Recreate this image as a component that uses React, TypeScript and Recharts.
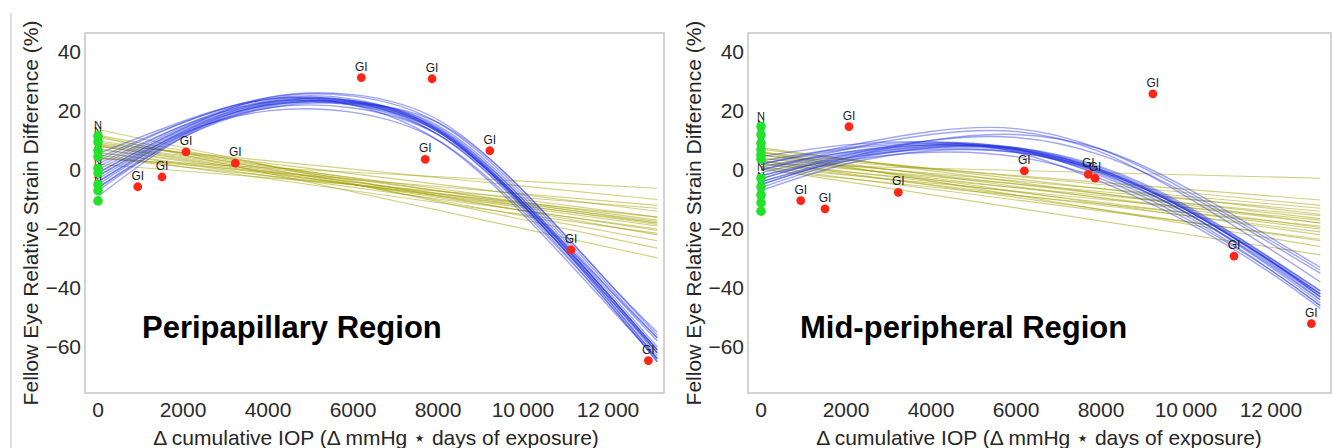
import React from "react";
import { ComposedChart, Line, Scatter, XAxis, YAxis, ReferenceArea } from "recharts";

// shared axes
const X_TICKS = [0, 2000, 4000, 6000, 8000, 10000, 12000];
const X_TICK_LABELS = ["0", "2000", "4000", "6000", "8000", "10\u2009000", "12\u2009000"];
const Y_TICKS = [-60, -40, -20, 0, 20, 40];
const Y_TICK_LABELS = ["\u221260", "\u221240", "\u221220", "0", "20", "40"];
const Y_DOMAIN: [number, number] = [-75.6, 46.4];

// x positions where the fitted curves were read
const FIT_X = [0, 2000, 4000, 6000, 8000, 10000, 12000, 13160];

// glaucoma-induced eyes (same x in both regions)
const GI_X = [935, 1506, 2070, 3230, 6196, 7700, 7860, 9220, 11130, 12950];

// ---- Peripapillary region ----
const PP_GI_Y = [-5.7, -2.4, 6.1, 2.3, 31.3, 3.6, 30.9, 6.5, -27.1, -64.6];
const PP_N_Y = [-10.5, -7, -5, -1, 0.5, 4.5, 6.5, 9.5, 11.5];
const PP_QUAD = [
  [-9, 11, 21.5, 23, 15, -9, -40, -58],
  [-7, 11.5, 22, 23, 14, -10, -41, -60],
  [-6, 12, 22.5, 23.5, 14.5, -10, -42, -61],
  [-5, 12.5, 22, 22.5, 13.5, -11, -42, -62],
  [-4, 13, 23, 23.5, 14, -11, -43, -63],
  [-3, 13, 22, 22, 13, -12, -43, -62],
  [-2, 13.5, 22.5, 22.5, 13, -11.5, -42, -61],
  [-1, 14, 23, 23, 13.5, -11, -42, -61],
  [0, 14.5, 23.5, 23.5, 13, -12, -44, -64],
  [1, 15, 24, 24, 13.5, -12, -44, -64],
  [2, 15, 23, 22, 12, -12.5, -43, -62],
  [3, 16, 24.5, 25, 16, -8, -39, -57],
  [4, 16, 24, 23, 12, -13, -45, -65],
  [5.5, 16.5, 24, 22, 10, -15, -46, -64],
  [-4, 12, 21, 21, 12, -11, -40, -57],
  [-2, 12.5, 20, 19.5, 10, -14, -45, -65],
  [-6, 11, 21, 22.5, 16, -7, -38, -55],
  [-1, 14, 24.5, 25.5, 17, -7, -38, -56],
];
// [value at x=0, value at right end]
const PP_LIN = [
  [3.8, -6.2], [8.8, -10], [9.3, -14], [8.6, -16], [9.9, -18],
  [8.3, -17], [8.1, -18.5], [7.1, -17.5], [6.9, -19], [6, -18],
  [5.9, -20], [8, -20.5], [4.1, -16], [5.1, -21.5], [11.7, -22],
  [13.7, -26.5], [11, -24], [11.4, -29.8], [1.9, -13], [4.2, -12],
];

// ---- Mid-peripheral region ----
const MP_GI_Y = [-10.4, -13.2, 14.7, -7.6, -0.3, -1.5, -2.8, 25.8, -29.2, -52.1];
const MP_N_Y = [-14, -11.2, -8.5, -5.7, -2.8, 3.6, 5, 6.8, 9, 11.9, 14.7];
const MP_QUAD = [
  [-7, 2, 6.5, 6, -0.5, -13.5, -31, -42],
  [-6, 3, 7.5, 7.5, 1, -12, -30, -41],
  [-5, 3.5, 7.5, 6.5, -0.5, -13.5, -31, -43],
  [-4, 4, 8, 7, 0, -13, -30.5, -42],
  [-3, 4.5, 8, 7, 0, -13.5, -31, -43],
  [-2, 5, 8.5, 7.5, 0.5, -12.5, -30, -41],
  [-1, 5.5, 8.5, 7, -0.5, -13.5, -31.5, -43],
  [0, 6, 9, 7.5, 0, -13, -31, -42],
  [1, 6, 8.5, 6.5, -1.5, -14.5, -32.5, -44],
  [2, 7, 9, 7, -1, -14.5, -33, -45],
  [3, 7.5, 9.5, 7, -2, -15.5, -34, -46],
  [4.5, 8.5, 9.5, 6, -4, -17.5, -35, -47],
  [-3, 5, 10, 11, 5, -8, -25, -35],
  [-5, 4, 10, 12, 7, -6, -23, -33],
  [0, 7, 12, 13, 6, -9, -27, -38],
  [2, 8, 13, 14, 7, -7, -24, -34],
  [-2, 4, 7, 6, -1, -14.5, -32, -44],
  [-4, 3, 6, 4.5, -3, -16.5, -34, -46],
];
const MP_LIN = [
  [2, -2.8], [5, -10.2], [6, -12], [4, -13], [7, -15],
  [3, -14], [5, -16.5], [2, -15.5], [4, -18], [6, -19.5],
  [1, -17], [3, -20], [2, -21], [5, -22], [0, -19],
  [1, -23.5], [3, -24], [6, -26], [0.5, -28.8], [7.5, -18],
];

const FONT = "'Liberation Sans', Arial, sans-serif";

function buildFits(quad: number[][], lin: number[][]) {
  const last = FIT_X.length - 1;
  return FIT_X.map((x, i) => {
    const row: Record<string, number> = { x };
    quad.forEach((c, k) => {
      row[`q${k}`] = c[i];
    });
    if (i === 0 || i === last) {
      lin.forEach((l, k) => {
        row[`l${k}`] = i === 0 ? l[0] : l[1];
      });
    }
    return row;
  });
}

// label drawn first, then the dot, so the next dot up covers part of the label below it
const labelledDot = (color: string, text: string, r: number, size: number) => (props: any) => (
  <g>
    <text x={props.cx} y={props.cy - 7} textAnchor="middle" fontSize={size} fill="#1a1a1a">
      {text}
    </text>
    <circle cx={props.cx} cy={props.cy} r={r} fill={color} />
  </g>
);

interface PanelProps {
  width: number;
  yAxisWidth: number;
  marginRight: number;
  xDomain: [number, number];
  quad: number[][];
  lin: number[][];
  giY: number[];
  nY: number[];
}

function Panel({ width, yAxisWidth, marginRight, xDomain, quad, lin, giY, nY }: PanelProps) {
  const fits = buildFits(quad, lin);
  const gi = GI_X.map((x, i) => ({ x, y: giY[i] }));
  const normals = nY.map((y) => ({ x: 0, y }));

  return (
    <ComposedChart
      width={width}
      height={448}
      data={fits}
      margin={{ top: 33, right: marginRight, bottom: 0, left: 0 }}
    >
      <XAxis
        type="number"
        dataKey="x"
        domain={xDomain}
        allowDataOverflow
        ticks={X_TICKS}
        interval={0}
        tickFormatter={(v: number) => X_TICK_LABELS[X_TICKS.indexOf(v)]}
        tickLine={false}
        axisLine={false}
        tickSize={0}
        tickMargin={9}
        height={55}
        tick={{ fill: "#2b2b2b", fontSize: 21 }}
      />
      <YAxis
        type="number"
        domain={Y_DOMAIN}
        allowDataOverflow
        ticks={Y_TICKS}
        interval={0}
        tickFormatter={(v: number) => Y_TICK_LABELS[Y_TICKS.indexOf(v)]}
        tickLine={false}
        axisLine={false}
        tickSize={0}
        tickMargin={4}
        width={yAxisWidth}
        tick={{ fill: "#2b2b2b", fontSize: 21 }}
      />
      <ReferenceArea
        x1={xDomain[0]}
        x2={xDomain[1]}
        y1={Y_DOMAIN[0]}
        y2={Y_DOMAIN[1]}
        fill="none"
        stroke="#c4c4c4"
        strokeWidth={1.5}
        ifOverflow="visible"
      />
      {lin.map((_, k) => (
        <Line
          key={`l${k}`}
          dataKey={`l${k}`}
          type="linear"
          stroke="#a4a200"
          strokeOpacity={0.5}
          strokeWidth={1.1}
          dot={false}
          activeDot={false}
          connectNulls
          isAnimationActive={false}
        />
      ))}
      {quad.map((_, k) => (
        <Line
          key={`q${k}`}
          dataKey={`q${k}`}
          type="natural"
          stroke="#1a2ae0"
          strokeOpacity={0.42}
          strokeWidth={1.4}
          dot={false}
          activeDot={false}
          isAnimationActive={false}
        />
      ))}
      <Scatter data={normals} dataKey="y" shape={labelledDot("#22e32a", "N", 4.8, 11)} isAnimationActive={false} />
      <Scatter data={gi} dataKey="y" shape={labelledDot("#ff2618", "GI", 4.4, 12)} isAnimationActive={false} />
    </ComposedChart>
  );
}

const Y_LABEL = "Fellow Eye Relative Strain Difference (%)";
const X_LABEL = "\u0394 cumulative IOP (\u0394 mmHg \u22c6 days of exposure)";

export default function App() {
  return (
    <div style={{ position: "absolute", left: 0, top: 0, width: 1332, height: 448, fontFamily: FONT, background: "#fff" }}>
      <style>{"body{margin:0}"}</style>
      <div style={{ position: "absolute", left: 0, top: 0 }}>
        <Panel
          width={668}
          yAxisWidth={85}
          marginRight={4}
          xDomain={[-306, 13318]}
          quad={PP_QUAD}
          lin={PP_LIN}
          giY={PP_GI_Y}
          nY={PP_N_Y}
        />
      </div>
      <div style={{ position: "absolute", left: 668, top: 0 }}>
        <Panel
          width={664}
          yAxisWidth={80}
          marginRight={1}
          xDomain={[-306, 13412]}
          quad={MP_QUAD}
          lin={MP_LIN}
          giY={MP_GI_Y}
          nY={MP_N_Y}
        />
      </div>
      <svg
        width={1332}
        height={448}
        style={{ position: "absolute", left: 0, top: 0, pointerEvents: "none" }}
        fontFamily={FONT}
      >
        <line x1={11} y1={13} x2={11} y2={448} stroke="#c8c8c8" strokeWidth={1.2} />
        <text x={30} y={213} transform="rotate(-90 30 213)" textAnchor="middle" dominantBaseline="central" fontSize={21} fill="#262626">
          {Y_LABEL}
        </text>
        <text x={693} y={213} transform="rotate(-90 693 213)" textAnchor="middle" dominantBaseline="central" fontSize={21} fill="#262626">
          {Y_LABEL}
        </text>
        <text x={376} y={445} textAnchor="middle" fontSize={21} fill="#262626">
          {X_LABEL}
        </text>
        <text x={1039} y={445} textAnchor="middle" fontSize={21} fill="#262626">
          {X_LABEL}
        </text>
        <text x={142} y={338} fontSize={31} fontWeight="bold" fill="#000">
          Peripapillary Region
        </text>
        <text x={800} y={338} fontSize={31} fontWeight="bold" fill="#000">
          Mid-peripheral Region
        </text>
      </svg>
    </div>
  );
}
